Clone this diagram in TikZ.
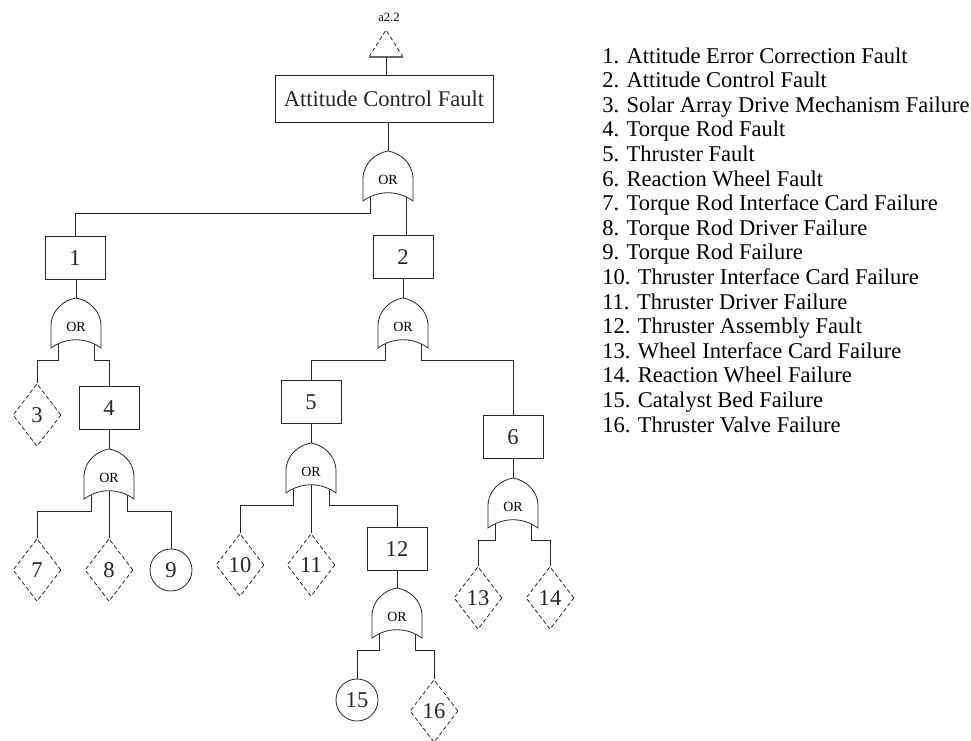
\documentclass[tikz,border=0pt]{standalone}
\usepackage{fontspec}
\setmainfont{Liberation Serif}
\usetikzlibrary{shapes.geometric}
\tikzset{
  ln/.style={line width=0.6pt, black!85},
  bigfont/.style={font=\fontsize{16.9}{18}\selectfont},
  evbox/.style={draw, ln, rectangle, minimum width=45pt, minimum height=32pt, inner sep=0pt, bigfont},
  topbox/.style={draw, ln, rectangle, minimum width=163.5pt, minimum height=35pt, inner sep=0pt, bigfont},
  undev/.style={draw, ln, diamond, dash pattern=on 3pt off 2pt, minimum width=36pt, minimum height=47pt, inner sep=0pt, bigfont},
  basicev/.style={draw, ln, circle, minimum size=31.5pt, inner sep=0pt, bigfont},
  orlabel/.style={font=\fontsize{10.5}{11}\selectfont, inner sep=0pt},
  legend/.style={anchor=base west, inner sep=0pt, bigfont},
  orgate/.pic={
    \draw[ln] (-25,50) -- (-25,28) .. controls (-25,12) and (-12,2) .. (0,0)
      .. controls (12,2) and (25,12) .. (25,28) -- (25,50)
      .. controls (10,39) and (-10,39) .. cycle;
    \node[orlabel] (-lab) at (0,29) {OR};
    \coordinate (-in) at (0,0);
    \coordinate (-l) at (-18,45.8);
    \coordinate (-r) at (18,45.8);
    \coordinate (-m) at (0,41.75);
    \coordinate (-lj) at (-18,62);
    \coordinate (-rj) at (18,62);
  }
}
\begin{document}
\begin{tikzpicture}[x=0.75pt, y=-0.75pt]
\useasboundingbox (0,0) rectangle (971,740);

% transfer triangle
\node[font=\fontsize{9.5}{10}\selectfont, inner sep=0pt] (lab) at (389,17) {a2.2};
\draw[ln, dash pattern=on 3pt off 2pt] (369,57) -- (386,30) -- (403,57);
\draw[line width=1.4pt, black!60] (369,57) -- (403,57);
\coordinate (tribase) at (386,57);

\node[topbox] (top) at (384,99) {Attitude Control Fault};
\pic (g1) at (388,151) {orgate};

\node[evbox] (b1) at (75,258) {1};
\node[evbox] (b2) at (403,257) {2};

\pic (g2) at (76,298) {orgate};
\pic (g4) at (403,298) {orgate};

\node[undev] (d3) at (37,415) {3};
\node[evbox] (b4) at (109,408) {4};
\pic (g3) at (109,449) {orgate};
\node[undev] (d7) at (37,570) {7};
\node[undev] (d8) at (109,570) {8};
\node[basicev] (c9) at (171,570) {9};

\node[evbox] (b5) at (311,402) {5};
\node[evbox] (b6) at (513,437) {6};
\pic (g5) at (311,443) {orgate};
\pic (g7) at (513,478) {orgate};

\node[undev] (d10) at (240,565) {10};
\node[undev] (d11) at (311,565) {11};
\node[evbox] (b12) at (397,549) {12};
\pic (g6) at (397,588) {orgate};
\node[basicev] (c15) at (357,700) {15};
\node[undev] (d16) at (434,711) {16};

\node[undev] (d13) at (478,598) {13};
\node[undev] (d14) at (550,598) {14};

% connectors
\draw[ln] (tribase) -- (tribase |- top.north);
\draw[ln] (g1-in |- top.south) -- (g1-in);
\draw[ln] (g1-l) -- (g1-lj) -| (b1.north);
\draw[ln] (g1-r) -- (g1-r |- b2.north);
\draw[ln] (g2-in |- b1.south) -- (g2-in);
\draw[ln] (g2-l) -- (g2-lj) -| (d3.north);
\draw[ln] (g2-r) -- (g2-rj) -| (b4.north);
\draw[ln] (g3-in |- b4.south) -- (g3-in);
\draw[ln] (g3-l) -- (g3-lj) -| (d7.north);
\draw[ln] (g3-m) -- (d8.north);
\draw[ln] (g3-r) -- (g3-rj) -| (c9.north);
\draw[ln] (g4-in |- b2.south) -- (g4-in);
\draw[ln] (g4-l) -- (g4-lj) -| (b5.north);
\draw[ln] (g4-r) -- (g4-rj) -| (b6.north);
\draw[ln] (g5-in |- b5.south) -- (g5-in);
\draw[ln] (g5-l) -- (g5-lj) -| (d10.north);
\draw[ln] (g5-m) -- (d11.north);
\draw[ln] (g5-r) -- (g5-rj) -| (b12.north);
\draw[ln] (g6-in |- b12.south) -- (g6-in);
\draw[ln] (g6-l) -- (g6-lj) -| (c15.north);
\draw[ln] (g6-r) -- (g6-rj) -| (d16.north);
\draw[ln] (g7-in |- b6.south) -- (g7-in);
\draw[ln] (g7-l) -- (g7-lj) -| (d13.north);
\draw[ln] (g7-r) -- (g7-rj) -| (d14.north);

% legend
\node[legend] (l1)  at (602,63.0)  {1. Attitude Error Correction Fault};
\node[legend] (l2)  at (602,87.6)  {2. Attitude Control Fault};
\node[legend] (l3)  at (602,112.2) {3. Solar Array Drive Mechanism Failure};
\node[legend] (l4)  at (602,136.8) {4. Torque Rod Fault};
\node[legend] (l5)  at (602,161.4) {5. Thruster Fault};
\node[legend] (l6)  at (602,186.0) {6. Reaction Wheel Fault};
\node[legend] (l7)  at (602,210.6) {7. Torque Rod Interface Card Failure};
\node[legend] (l8)  at (602,235.2) {8. Torque Rod Driver Failure};
\node[legend] (l9)  at (602,259.8) {9. Torque Rod Failure};
\node[legend] (l10) at (602,284.4) {10. Thruster Interface Card Failure};
\node[legend] (l11) at (602,309.0) {11. Thruster Driver Failure};
\node[legend] (l12) at (602,333.6) {12. Thruster Assembly Fault};
\node[legend] (l13) at (602,358.2) {13. Wheel Interface Card Failure};
\node[legend] (l14) at (602,382.8) {14. Reaction Wheel Failure};
\node[legend] (l15) at (602,407.4) {15. Catalyst Bed Failure};
\node[legend] (l16) at (602,432.0) {16. Thruster Valve Failure};
\end{tikzpicture}
\end{document}
